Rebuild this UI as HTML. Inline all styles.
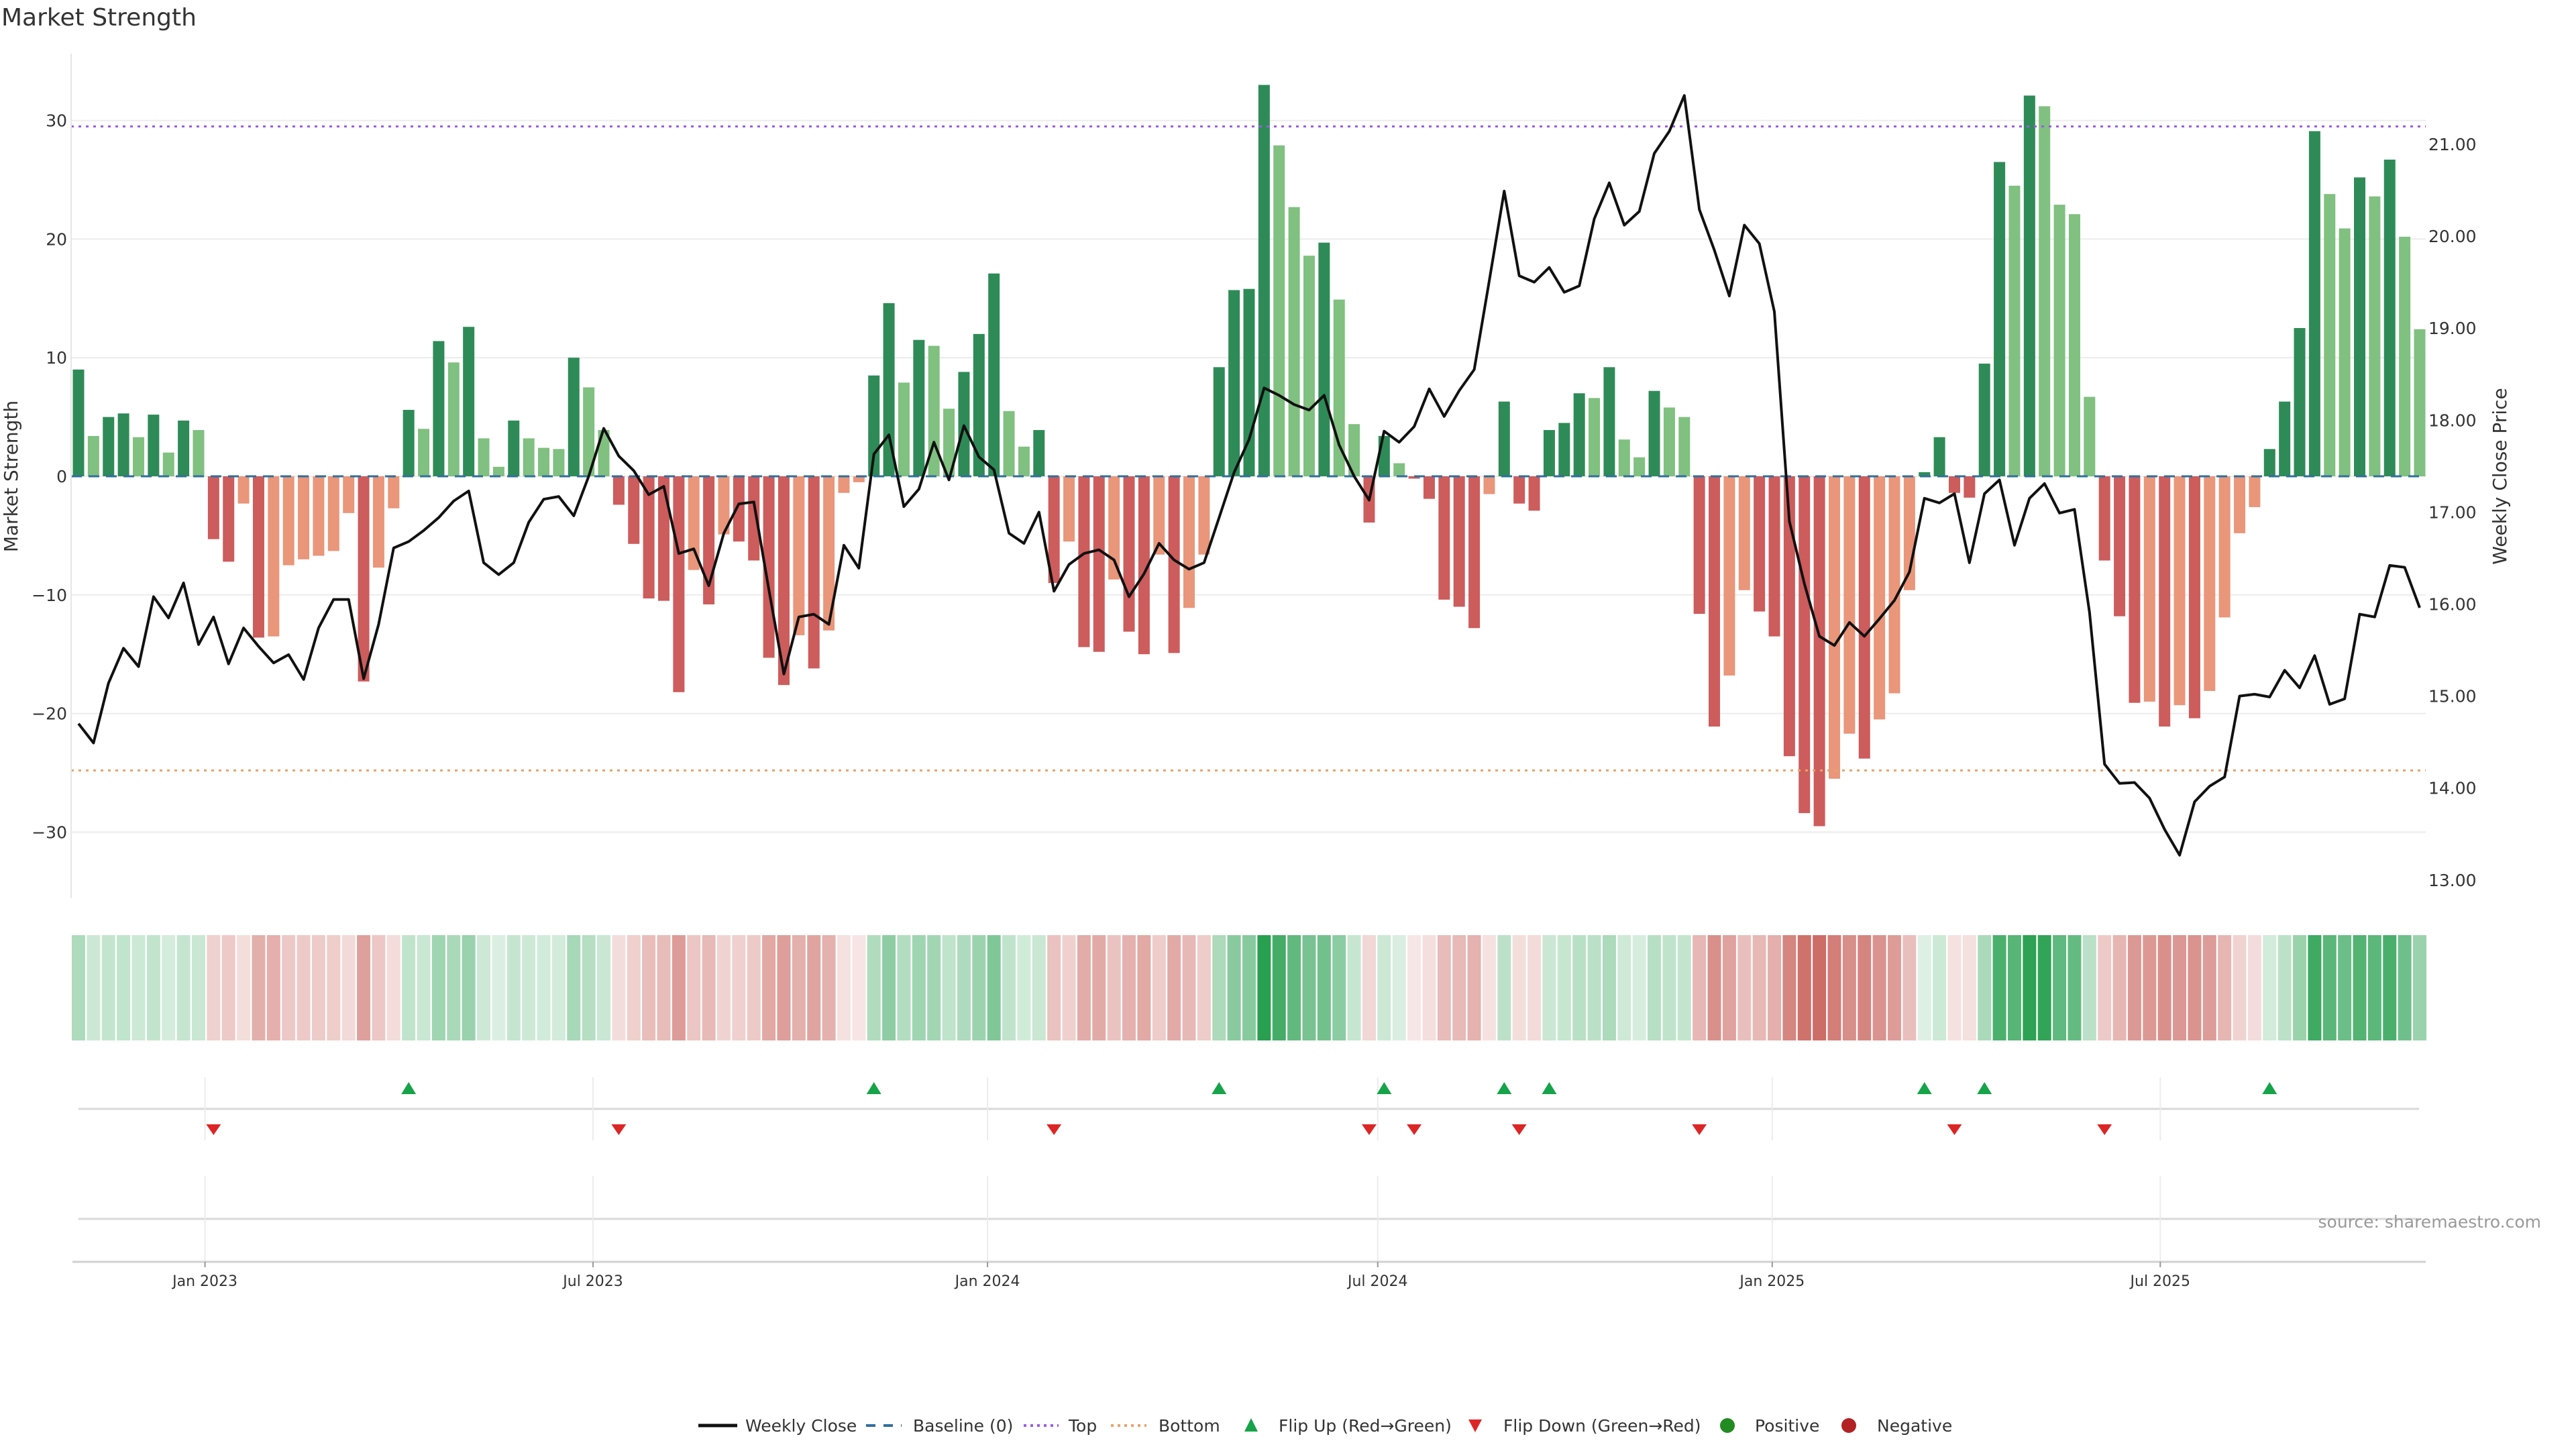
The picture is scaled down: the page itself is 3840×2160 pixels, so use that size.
<!DOCTYPE html>
<html><head><meta charset="utf-8"><style>
html,body{margin:0;padding:0;background:#fff;}
svg{display:block;font-family:"DejaVu Sans","Liberation Sans",sans-serif;}
</style></head><body>
<svg id="chart" width="3840" height="2160" viewBox="0 0 3840 2160" xmlns="http://www.w3.org/2000/svg">
<rect width="3840" height="2160" fill="#fff"/>
<text x="2" y="38" font-size="36" fill="#333">Market Strength</text>
<g id="grid"></g><g id="refs"></g><g id="bars"></g><g id="line"></g><g id="heat"></g><g id="flips"></g><g id="axes"></g>
<text transform="translate(26,710) rotate(-90)" text-anchor="middle" font-size="28" fill="#333">Market Strength</text>
<text transform="translate(3736,710) rotate(-90)" text-anchor="middle" font-size="28" fill="#333">Weekly Close Price</text>
<text x="3788" y="1830" text-anchor="end" font-size="25" fill="#999">source: sharemaestro.com</text>
<g id="legend"></g>
</svg>
<script>
const strength = [9.0,3.4,5.0,5.3,3.3,5.2,2.0,4.7,3.9,-5.3,-7.2,-2.3,-13.6,-13.5,-7.5,-7.0,-6.7,-6.3,-3.1,-17.3,-7.7,-2.7,5.6,4.0,11.4,9.6,12.6,3.2,0.8,4.7,3.2,2.4,2.3,10.0,7.5,3.9,-2.4,-5.7,-10.3,-10.5,-18.2,-7.9,-10.8,-4.9,-5.5,-7.1,-15.3,-17.6,-13.4,-16.2,-13.0,-1.4,-0.5,8.5,14.6,7.9,11.5,11.0,5.7,8.8,12.0,17.1,5.5,2.5,3.9,-9.0,-5.5,-14.4,-14.8,-8.7,-13.1,-15.0,-6.6,-14.9,-11.1,-6.6,9.2,15.7,15.8,33.0,27.9,22.7,18.6,19.7,14.9,4.4,-3.9,3.4,1.1,-0.2,-1.9,-10.4,-11.0,-12.8,-1.5,6.3,-2.3,-2.9,3.9,4.5,7.0,6.6,9.2,3.1,1.6,7.2,5.8,5.0,-11.6,-21.1,-16.8,-9.6,-11.4,-13.5,-23.6,-28.4,-29.5,-25.5,-21.7,-23.8,-20.5,-18.3,-9.6,0.35,3.3,-1.4,-1.8,9.5,26.5,24.5,32.1,31.2,22.9,22.1,6.7,-7.1,-11.8,-19.1,-19.0,-21.1,-19.3,-20.4,-18.1,-11.9,-4.8,-2.6,2.3,6.3,12.5,29.1,23.8,20.9,25.2,23.6,26.7,20.2,12.4];
const closes = [14.70,14.49,15.14,15.52,15.32,16.08,15.85,16.23,15.56,15.86,15.35,15.74,15.54,15.36,15.45,15.18,15.74,16.05,16.05,15.19,15.78,16.61,16.68,16.80,16.94,17.12,17.23,16.45,16.32,16.45,16.89,17.14,17.17,16.96,17.39,17.91,17.61,17.45,17.19,17.28,16.55,16.60,16.20,16.77,17.09,17.11,16.16,15.24,15.86,15.89,15.78,16.64,16.39,17.63,17.84,17.06,17.25,17.76,17.35,17.94,17.60,17.46,16.77,16.66,17.00,16.14,16.43,16.55,16.59,16.48,16.08,16.33,16.66,16.48,16.38,16.45,16.94,17.43,17.79,18.35,18.27,18.17,18.11,18.27,17.73,17.39,17.13,17.88,17.76,17.93,18.34,18.04,18.32,18.55,19.51,20.49,19.57,19.50,19.66,19.39,19.46,20.19,20.58,20.12,20.27,20.90,21.14,21.53,20.29,19.85,19.35,20.12,19.92,19.18,16.90,16.22,15.65,15.55,15.80,15.65,15.84,16.04,16.35,17.15,17.10,17.20,16.45,17.20,17.35,16.64,17.15,17.31,16.99,17.03,15.91,14.26,14.05,14.06,13.89,13.55,13.27,13.85,14.02,14.12,15.00,15.02,14.99,15.28,15.09,15.44,14.91,14.97,15.89,15.86,16.42,16.40,15.96];
const leftTicks = [30,20,10,0,-10,-20,-30];
const rightTicks = [21,20,19,18,17,16,15,14,13];
const topLevel = [29.5];
const bottomLevel = [-24.8];
const dateTickLabels = ["Jan 2023","Jul 2023","Jan 2024","Jul 2024","Jan 2025","Jul 2025"];
const dateTickDates = ["2023-01-01","2023-07-01","2024-01-01","2024-07-01","2025-01-01","2025-07-01"];
const firstWeek = "2022-11-03";

const NS="http://www.w3.org/2000/svg";
function mk(tag,attrs,parent){const e=document.createElementNS(NS,tag);for(const k in attrs)e.setAttribute(k,attrs[k]);parent.appendChild(e);return e;}
const X0=117, X1=3607, N=strength.length;
const step=(X1-X0)/(N-1);
const xi=i=>X0+i*step;
const yS=v=>710-17.68*v;
const yP=p=>215+(21-p)*137.1;
const xDate=d=>{const w=(new Date(d)-new Date(firstWeek))/(7*864e5);return xi(w);};
const G=id=>document.getElementById(id);

leftTicks.forEach(t=>{
  const l=mk('line',{x1:106,x2:3616,y1:yS(t),y2:yS(t),stroke:'#ececec','stroke-width':2},G('grid'));
  
  
  const tx=mk('text',{x:100,y:yS(t)+9,'text-anchor':'end','font-size':25,fill:'#333'},G('axes'));
  tx.textContent=(t<0?'\u2212'+Math.abs(t):String(t));
  
  
});
mk('line',{x1:106,x2:106,y1:80,y2:1339,stroke:'#e6e6e6','stroke-width':2},G('axes'));
rightTicks.forEach(t=>{
  const tx=mk('text',{x:3620,y:yP(t)+9,'font-size':25,fill:'#333'},G('axes'));
  tx.textContent=t.toFixed(2);
  
  
});

strength.forEach((v,i)=>{
  const prev=i>0?strength[i-1]:0;
  const strong=Math.abs(v)>=Math.abs(prev)||Math.sign(v)!==Math.sign(prev);
  const fill=v>=0?(strong?'#2e8b57':'#80c080'):(strong?'#cd5c5c':'#e9967a');
  const y=Math.min(yS(v),yS(0)),h=Math.abs(yS(v)-yS(0));
  const r=mk('rect',{x:xi(i)-8.5,y:y,width:17,height:Math.max(h,1),fill:fill},G('bars'));
  
  
});
G('refs').parentNode.insertBefore(G('refs'),G('line'));
const bl=mk('line',{x1:106,x2:3616,y1:yS(0),y2:yS(0),stroke:'#2f6f9f','stroke-width':3,'stroke-dasharray':'16 10'},G('refs'));


const tl=mk('line',{x1:106,x2:3616,y1:yS(topLevel[0]),y2:yS(topLevel[0]),stroke:'#9b5de5','stroke-width':3,'stroke-dasharray':'4 7'},G('refs'));


const bt=mk('line',{x1:106,x2:3616,y1:yS(bottomLevel[0]),y2:yS(bottomLevel[0]),stroke:'#e8a36a','stroke-width':3,'stroke-dasharray':'4 7'},G('refs'));



const pl=mk('polyline',{points:closes.map((p,i)=>xi(i).toFixed(1)+','+yP(p).toFixed(1)).join(' '),fill:'none',stroke:'#111','stroke-width':4,'stroke-linejoin':'round'},G('line'));



const vmax=Math.max(...strength.map(Math.abs));
strength.forEach((v,i)=>{
  const a=0.15+0.85*Math.abs(v)/vmax;
  const base=v>=0?[40,160,80]:[200,95,88];
  const c=base.map(b=>Math.round(255-(255-b)*a));
  const r=mk('rect',{x:xi(i)-10,y:1394,width:20,height:157,fill:`rgb(${c})`},G('heat'));
  
  
});

[1653,1817].forEach(y=>mk('line',{x1:117,x2:3606,y1:y,y2:y,stroke:'#d9d9d9','stroke-width':3},G('flips')));
mk('line',{x1:108,x2:3616,y1:1881,y2:1881,stroke:'#d0d0d0','stroke-width':3},G('axes'));
dateTickDates.forEach((d,k)=>{
  const x=xDate(d);
  mk('line',{x1:x,x2:x,y1:1606,y2:1700,stroke:'#ececec','stroke-width':2},G('flips'));
  mk('line',{x1:x,x2:x,y1:1753,y2:1881,stroke:'#ececec','stroke-width':2},G('flips'));
  mk('line',{x1:x,x2:x,y1:1881,y2:1889,stroke:'#999','stroke-width':2},G('axes'));
  const tx=mk('text',{x:x,y:1917,'text-anchor':'middle','font-size':22,fill:'#333'},G('axes'));
  tx.textContent=dateTickLabels[k];
  
  
});
strength.forEach((v,i)=>{
  if(i===0)return;
  const p=strength[i-1],x=xi(i);
  if(v>0&&p<=0){
    const t=mk('polygon',{points:`${x-11},1631 ${x+11},1631 ${x},1613`,fill:'#16a34a'},G('flips'));
    
    
  } else if(v<0&&p>=0){
    const t=mk('polygon',{points:`${x-11},1676 ${x+11},1676 ${x},1692`,fill:'#dc2626'},G('flips'));
    
    
  }
});

const L=G('legend'),LY=2125;
function lt(x,s,name){const t=mk('text',{x:x,y:LY+9,'font-size':25,fill:'#333'},L);t.textContent=s;}
mk('line',{x1:1041,x2:1099,y1:LY,y2:LY,stroke:'#111','stroke-width':5},L);lt(1111,'Weekly Close','legend-weekly-close');
mk('line',{x1:1291,x2:1344,y1:LY,y2:LY,stroke:'#2f6f9f','stroke-width':4,'stroke-dasharray':'14 12'},L);lt(1361,'Baseline (0)','legend-baseline');
mk('line',{x1:1526,x2:1578,y1:LY,y2:LY,stroke:'#9b5de5','stroke-width':4,'stroke-dasharray':'4 6'},L);lt(1593,'Top','legend-top');
mk('line',{x1:1656,x2:1709,y1:LY,y2:LY,stroke:'#e8a36a','stroke-width':4,'stroke-dasharray':'4 6'},L);lt(1727,'Bottom','legend-bottom');
mk('polygon',{points:`1855,${LY+9} 1875,${LY+9} 1865,${LY-11}`,fill:'#16a34a'},L);lt(1906,'Flip Up (Red\u2192Green)','legend-flip-up');
mk('polygon',{points:`2189,${LY-9} 2209,${LY-9} 2199,${LY+10}`,fill:'#dc2626'},L);lt(2241,'Flip Down (Green\u2192Red)','legend-flip-down');
mk('circle',{cx:2575,cy:LY,r:11,fill:'#228b22'},L);lt(2616,'Positive','legend-positive');
mk('circle',{cx:2756,cy:LY,r:11,fill:'#b22222'},L);lt(2798,'Negative','legend-negative');
</script>
</body></html>
